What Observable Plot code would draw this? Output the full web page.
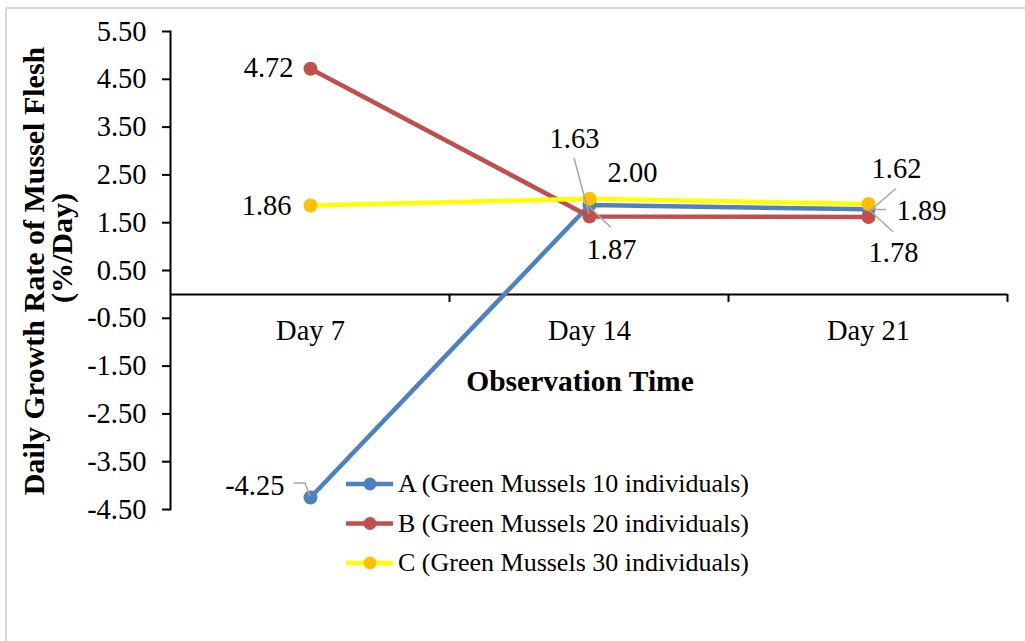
<!DOCTYPE html>
<html><head><meta charset="utf-8">
<script src="https://cdn.jsdelivr.net/npm/d3@7"></script>
<script src="https://cdn.jsdelivr.net/npm/@observablehq/plot@0.6"></script>
<style>
body{margin:0;background:#fff;}
#wrap{position:relative;width:1025px;height:641px;overflow:hidden;background:#fff;}
#frame{position:absolute;left:5px;top:7px;width:1100px;height:700px;border-top:2px solid #d9d9d9;border-left:2px solid #d9d9d9;}
#chart{position:absolute;left:0;top:0;}
</style></head><body>
<div id="wrap"><div id="frame"></div><div id="chart"></div></div>
<script>
// ---- data ----
const days = ["Day 7", "Day 14", "Day 21"];
const seriesKeys = ["A", "B", "C"];
const seriesNames = ["A (Green Mussels 10 individuals)", "B (Green Mussels 20 individuals)", "C (Green Mussels 30 individuals)"];
const valuesA = [-4.25, 1.87, 1.78];
const valuesB = [4.72, 1.63, 1.62];
const valuesC = [1.86, 2.00, 1.89];
const yTicks = [5.5, 4.5, 3.5, 2.5, 1.5, 0.5, -0.5, -1.5, -2.5, -3.5, -4.5];
const xTitle = "Observation Time";
const yTitle1 = "Daily Growth Rate of Mussel Flesh";
const yTitle2 = "(%/Day)";

// ---- styles ----
const lineColor = {A: "#4F81BD", B: "#C0504D", C: "#FFFF00"};
const dotColor = {A: "#4F81BD", B: "#C0504D", C: "#FFC000"};
const FONT = "Liberation Serif, Times New Roman, serif";
const FS = 28.5;
// label placement (pixel offsets from point) – style only
const place = {
  "A|Day 7":  {dx: -26, dy: -12, anchor: "end",    leader: [[-16,-14],[-5,-14],[0,-1]]},
  "B|Day 7":  {dx: -17, dy: -1,  anchor: "end"},
  "C|Day 7":  {dx: -19, dy: 0,   anchor: "end"},
  "A|Day 14": {dx: 22,  dy: 45,  anchor: "middle", leader: [[0,2],[22,23]]},
  "B|Day 14": {dx: -15, dy: -78, anchor: "middle", leader: [[-15,-58],[0,-2]]},
  "C|Day 14": {dx: 43,  dy: -26, anchor: "middle"},
  "A|Day 21": {dx: 25,  dy: 44,  anchor: "middle", leader: [[1,1],[25,23]]},
  "B|Day 21": {dx: 28,  dy: -48, anchor: "middle", leader: [[28,-28],[1,-5]]},
  "C|Day 21": {dx: 28,  dy: 7,   anchor: "start",  leader: [[18,6],[1,6]]}
};

const valuesBy = {A: valuesA, B: valuesB, C: valuesC};
const rows = [];
seriesKeys.forEach(k => days.forEach((d, i) => rows.push({series: k, day: d, value: valuesBy[k][i]})));

const marks = [
  Plot.axisY({ticks: yTicks, tickFormat: d => d.toFixed(2), tickSize: 8, tickPadding: 16, label: null, fontSize: FS, strokeWidth: 2, stroke: "#000"}),
  Plot.frame({anchor: "left", stroke: "#000", strokeWidth: 2}),
  Plot.ruleY([0], {stroke: "#000", strokeWidth: 2}),
  Plot.text(days, {x: d => d, y: d => 0, text: d => d, dy: 36, fontSize: FS, fill: "#000"})
];
seriesKeys.forEach(k => {
  const r = rows.filter(d => d.series === k);
  marks.push(Plot.line(r, {x: "day", y: "value", stroke: lineColor[k], strokeWidth: 4.5}));
  marks.push(Plot.dot(r, {x: "day", y: "value", r: 7, fill: dotColor[k], stroke: "none"}));
});
rows.forEach(d => {
  const p = place[d.series + "|" + d.day];
  marks.push(Plot.text([d], {x: "day", y: "value", text: v => v.value.toFixed(2), dx: p.dx, dy: p.dy, textAnchor: p.anchor, fontSize: FS, fill: "#000"}));
});

const chart = Plot.plot({
  width: 1025, height: 641,
  marginLeft: 170, marginRight: 18, marginTop: 31, marginBottom: 132,
  style: {fontFamily: FONT, fontSize: FS + "px", background: "transparent", color: "#000"},
  x: {type: "point", domain: days, padding: 0.5, axis: null},
  y: {domain: [-4.5, 5.5], axis: null},
  marks
});
document.getElementById("chart").appendChild(chart);

const sx = chart.scale("x"), sy = chart.scale("y");
const svg = d3.select(chart);
const step = sx.apply(days[1]) - sx.apply(days[0]);
const y0 = sy.apply(0);

// category boundary ticks
for (let i = 1; i <= days.length; i++) {
  const bx = sx.apply(days[0]) - step / 2 + i * step;
  svg.append("line").attr("x1", bx).attr("x2", bx).attr("y1", y0).attr("y2", y0 + 8)
    .attr("stroke", "#000").attr("stroke-width", 2);
}

// leader lines
const lg = svg.append("g").attr("fill", "none").attr("stroke", "#A6A6A6").attr("stroke-width", 1.5);
rows.forEach(d => {
  const p = place[d.series + "|" + d.day];
  if (!p.leader) return;
  const px = sx.apply(d.day), py = sy.apply(d.value);
  lg.append("path").attr("d", d3.line()(p.leader.map(([a, b]) => [px + a, py + b])));
});

// axis titles
const tg = svg.append("g").attr("font-family", FONT).attr("font-weight", "bold").attr("text-anchor", "middle").attr("fill", "#000");
tg.append("text").attr("x", 580).attr("y", 391).style("font-size", "29.5px").text(xTitle);
tg.append("text").attr("transform", "translate(44,271) rotate(-90)").style("font-size", "30px").text(yTitle1);
tg.append("text").attr("transform", "translate(72,248) rotate(-90)").style("font-size", "30px").text(yTitle2);

// legend
const leg = svg.append("g").attr("text-anchor", "start");
seriesKeys.forEach((k, i) => {
  const ly = 484 + i * 39.5;
  leg.append("line").attr("x1", 346).attr("x2", 393).attr("y1", ly).attr("y2", ly)
    .attr("stroke", lineColor[k]).attr("stroke-width", 4.5);
  leg.append("circle").attr("cx", 370).attr("cy", ly).attr("r", 6.5).attr("fill", dotColor[k]);
  leg.append("text").attr("x", 398).attr("y", ly).attr("dy", "0.32em").style("font-size", "26px")
    .attr("font-family", FONT).attr("fill", "#000").text(seriesNames[i]);
});
</script>
</body></html>
